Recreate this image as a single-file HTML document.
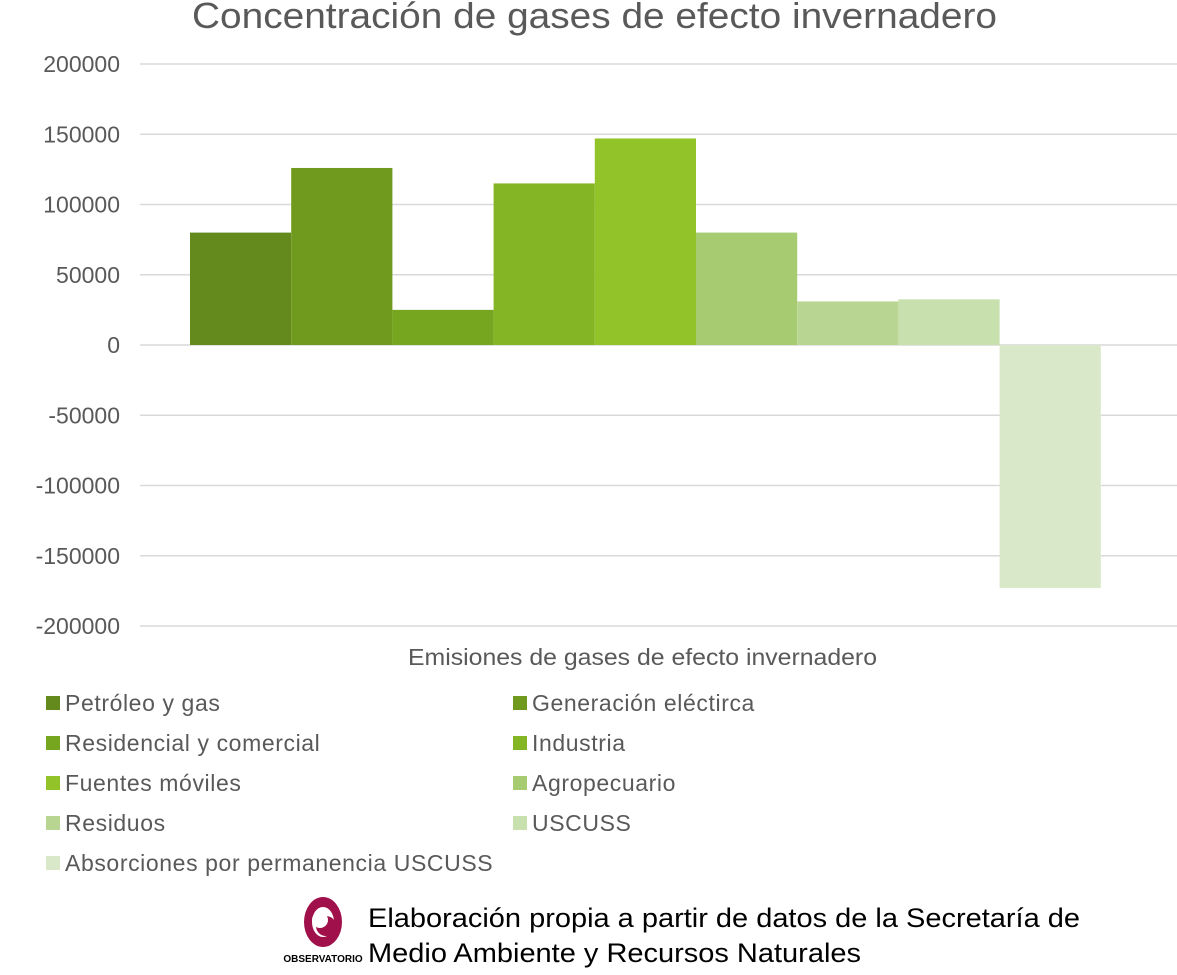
<!DOCTYPE html>
<html><head><meta charset="utf-8"><style>
body{margin:0;background:#fff;font-family:"Liberation Sans",sans-serif;overflow:hidden;}
</style></head><body>
<svg id="c" width="1177" height="970" xmlns="http://www.w3.org/2000/svg">
<text x="192" y="28" font-size="36" fill="#595959" textLength="805" lengthAdjust="spacingAndGlyphs">Concentración de gases de efecto invernadero</text>
<g id="grid"></g><g id="bars"></g><g id="legend"></g>
<text x="408" y="665" font-size="23" fill="#595959" textLength="469" lengthAdjust="spacingAndGlyphs">Emisiones de gases de efecto invernadero</text>
<g>
<ellipse cx="323" cy="922" rx="19" ry="25" fill="#a0104a"/>
<ellipse cx="323" cy="922" rx="11" ry="15" fill="#fff"/>
<circle cx="326" cy="926" r="10" fill="#a0104a"/>
<circle cx="320" cy="920" r="8" fill="#fff"/>
<text x="323" y="962" text-anchor="middle" font-size="10" font-weight="bold" fill="#000">OBSERVATORIO</text>
</g>
<text x="368" y="927" font-size="27" fill="#000" textLength="712" lengthAdjust="spacingAndGlyphs">Elaboración propia a partir de datos de la Secretaría de</text>
<text x="368" y="962" font-size="27" fill="#000" textLength="493" lengthAdjust="spacingAndGlyphs">Medio Ambiente y Recursos Naturales</text>
</svg>
<script>
const categories=["Petróleo y gas","Generación eléctirca","Residencial y comercial","Industria","Fuentes móviles","Agropecuario","Residuos","USCUSS","Absorciones por permanencia USCUSS"];
const values=[80000,126000,25000,115000,147000,80000,31000,32500,-173000];
const colors=["#648a1e","#6f9a1e","#76a620","#84b525","#92c42a","#a6cb70","#b8d691","#c7e0ae","#d9e8c8"];
const ticks=[200000,150000,100000,50000,0,-50000,-100000,-150000,-200000];
const ns="http://www.w3.org/2000/svg";
const y=v=>345-v*0.001405;
const grid=document.getElementById('grid'),bars=document.getElementById('bars'),leg=document.getElementById('legend');
ticks.forEach(t=>{
 const l=document.createElementNS(ns,'line');
 
 
 l.setAttribute('x1',140);l.setAttribute('x2',1177);l.setAttribute('y1',y(t));l.setAttribute('y2',y(t));
 l.setAttribute('stroke','#d9d9d9');l.setAttribute('stroke-width',1.5);grid.appendChild(l);
 const tx=document.createElementNS(ns,'text');
 
 
 tx.setAttribute('x',120);tx.setAttribute('y',y(t)+8);tx.setAttribute('text-anchor','end');
 tx.setAttribute('font-size',23);tx.setAttribute('fill','#595959');tx.textContent=t;grid.appendChild(tx);
});
const x0=190,bw=101.2;
values.forEach((v,i)=>{
 const r=document.createElementNS(ns,'rect');
 
 
 r.setAttribute('x',x0+i*bw);r.setAttribute('width',bw);
 r.setAttribute('y',Math.min(y(v),y(0)));r.setAttribute('height',Math.abs(y(v)-y(0)));
 r.setAttribute('fill',colors[i]);bars.appendChild(r);
});
categories.forEach((c,i)=>{
 const lx=i%2?513:46,ly=703+Math.floor(i/2)*40;
 const s=document.createElementNS(ns,'rect');
 
 
 s.setAttribute('x',lx);s.setAttribute('y',ly-7);s.setAttribute('width',14);s.setAttribute('height',14);
 s.setAttribute('fill',colors[i]);leg.appendChild(s);
 const t=document.createElementNS(ns,'text');
 
 
 t.setAttribute('x',lx+19);t.setAttribute('y',ly+8);t.setAttribute('font-size',23);t.setAttribute('fill','#595959');
 t.setAttribute('style','letter-spacing:0.6px');
 t.textContent=c;leg.appendChild(t);
});
</script>
</body></html>
